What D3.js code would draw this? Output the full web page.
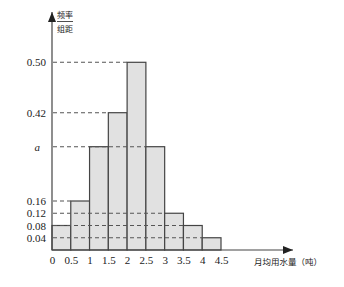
<!DOCTYPE html>
<html>
<head>
<meta charset="utf-8">
<script src="https://cdn.jsdelivr.net/npm/d3@7"></script>
<style>
  body { margin: 0; background: #fff; }
  svg { display: block; }
</style>
</head>
<body>
<svg id="chart" width="344" height="287"></svg>
<script>
// histogram data: monthly water use (tons), frequency / group width
const binStarts = [0, 0.5, 1, 1.5, 2, 2.5, 3, 3.5, 4];
const binWidth = 0.5;
const binHeights = [0.08, 0.16, 0.30, 0.42, 0.50, 0.30, 0.12, 0.08, 0.04];

const xTickValues = [0, 0.5, 1, 1.5, 2, 2.5, 3, 3.5, 4, 4.5];
const xTickLabels = ['0', '0.5', '1', '1.5', '2', '2.5', '3', '3.5', '4', '4.5'];
const yTickValues = [0.04, 0.08, 0.12, 0.16, 0.30, 0.42, 0.50];
const yTickLabels = ['0.04', '0.08', '0.12', '0.16', 'a', '0.42', '0.50'];

const svg = d3.select('#chart');
const ink = '#444';

const x = d3.scaleLinear().domain([0, 4.5]).range([52, 221]);
// the figure is schematic, so the vertical scale is piecewise
const y = d3.scaleLinear()
    .domain([0, 0.16, 0.30, 0.42, 0.50])
    .range([250, 201, 146.7, 112.7, 62.3]);

// arrow heads
const defs = svg.append('defs');
defs.append('marker')
    .attr('id', 'arrow')
    .attr('viewBox', '0 0 10 8')
    .attr('refX', 10).attr('refY', 4)
    .attr('markerWidth', 10).attr('markerHeight', 8)
    .attr('markerUnits', 'userSpaceOnUse')
    .attr('orient', 'auto')
    .append('path')
    .attr('d', 'M0,0 L10,4 L0,8 Z')
    .attr('fill', '#222');

// bars
svg.append('g')
    .selectAll('rect')
    .data(binStarts)
    .join('rect')
    .attr('x', (d) => x(d))
    .attr('y', (d, i) => y(binHeights[i]))
    .attr('width', (d) => x(d + binWidth) - x(d))
    .attr('height', (d, i) => y(0) - y(binHeights[i]))
    .attr('fill', '#e1e1e1')
    .attr('stroke', ink)
    .attr('stroke-width', 1.2);

// dashed guide lines, running to the last bar of that height
svg.append('g')
    .selectAll('line')
    .data(yTickValues)
    .join('line')
    .attr('x1', x(0) + 1)
    .attr('x2', (v) => {
        let last = 0;
        binHeights.forEach((h, i) => { if (Math.abs(h - v) < 1e-9) last = binStarts[i]; });
        return x(last);
    })
    .attr('y1', (v) => y(v))
    .attr('y2', (v) => y(v))
    .attr('stroke', '#555')
    .attr('stroke-width', 1.1)
    .attr('stroke-dasharray', '4,3');

// axes lines with arrows
svg.append('line')
    .attr('x1', x(0)).attr('y1', y(0))
    .attr('x2', x(0)).attr('y2', 12)
    .attr('stroke', ink).attr('stroke-width', 1.2)
    .attr('marker-end', 'url(#arrow)');
svg.append('line')
    .attr('x1', x(0)).attr('y1', y(0))
    .attr('x2', 293).attr('y2', y(0))
    .attr('stroke', ink).attr('stroke-width', 1.2)
    .attr('marker-end', 'url(#arrow)');

// y tick labels
const yAxis = svg.append('g')
    .attr('transform', 'translate(46,0)')
    .call(d3.axisLeft(y).tickValues(yTickValues).tickSize(0).tickPadding(0)
        .tickFormat((d, i) => yTickLabels[i]));
yAxis.select('.domain').remove();
yAxis.selectAll('text')
    .attr('font-family', '"Liberation Serif", "DejaVu Serif", serif')
    .attr('font-size', 11)
    .attr('fill', '#222')
    .attr('font-style', (d, i) => yTickLabels[i] === 'a' ? 'italic' : 'normal')
    .attr('dx', (d, i) => yTickLabels[i] === 'a' ? -6 : 0);

// x tick labels
const xAxis = svg.append('g')
    .attr('transform', `translate(0,${y(0) + 3})`)
    .call(d3.axisBottom(x).tickValues(xTickValues).tickSize(0).tickPadding(3)
        .tickFormat((d, i) => xTickLabels[i]));
xAxis.select('.domain').remove();
xAxis.selectAll('text')
    .attr('font-family', '"Liberation Serif", "DejaVu Serif", serif')
    .attr('font-size', 11)
    .attr('fill', '#222');

// axis titles
const cjk = '"Noto Sans CJK SC", "Noto Sans", sans-serif';
svg.append('text')
    .attr('x', 65).attr('y', 18)
    .attr('text-anchor', 'middle')
    .attr('font-family', cjk).attr('font-size', 8)
    .attr('fill', '#222')
    .text('频率');
svg.append('line')
    .attr('x1', 57).attr('x2', 73)
    .attr('y1', 21.5).attr('y2', 21.5)
    .attr('stroke', '#222').attr('stroke-width', 0.8);
svg.append('text')
    .attr('x', 65).attr('y', 32)
    .attr('text-anchor', 'middle')
    .attr('font-family', cjk).attr('font-size', 8)
    .attr('fill', '#222')
    .text('组距');
svg.append('text')
    .attr('x', 254).attr('y', 265)
    .attr('font-family', cjk).attr('font-size', 8.5)
    .attr('fill', '#222')
    .text('月均用水量（吨）');
</script>
</body>
</html>
